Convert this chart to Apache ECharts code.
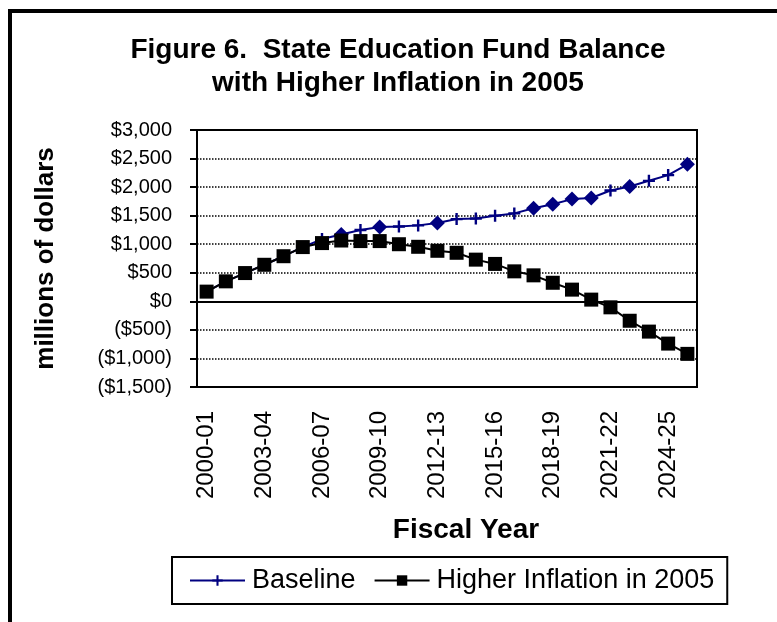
<!DOCTYPE html>
<html><head><meta charset="utf-8">
<script src="https://cdn.jsdelivr.net/npm/echarts@6/dist/echarts.min.js"></script>
<style>html,body{margin:0;padding:0;background:#fff}#c{width:777px;height:622px}</style>
</head><body><div id="c"></div>
<script>
const categories = ['2000-01','2001-02','2002-03','2003-04','2004-05','2005-06','2006-07','2007-08','2008-09','2009-10','2010-11','2011-12','2012-13','2013-14','2014-15','2015-16','2016-17','2017-18','2018-19','2019-20','2020-21','2021-22','2022-23','2023-24','2024-25','2025-26'];
const baseline = [170, 350, 495, 640, 790, 950, 1090, 1170, 1250, 1300, 1310, 1330, 1370, 1440, 1450, 1500, 1540, 1630, 1700, 1790, 1810, 1940, 2010, 2110, 2210, 2400];
const higherInflation = [170, 350, 495, 640, 790, 950, 1020, 1065, 1055, 1055, 1000, 955, 885, 850, 730, 655, 525, 455, 325, 205, 30, -105, -340, -530, -740, -920];
const baselineDiamondIdx = [7, 9, 12, 17, 18, 19, 20, 22, 25];
const yTicks = {min: -1500, max: 3000, interval: 500};

const FONT = 'Liberation Sans, Arial, sans-serif';
const PLUS = 'path://M0,4H10V6H0Z M4,0H6V10H4Z';
const chart = echarts.init(document.getElementById('c'), null, {renderer: 'canvas'});

function money(v) {
  const s = Math.abs(v).toLocaleString('en-US');
  return v < 0 ? '($' + s + ')' : '$' + s;
}

const baseData = baseline.map((v, i) => baselineDiamondIdx.includes(i)
  ? {value: v, symbol: 'diamond', symbolSize: 15}
  : v);

chart.setOption({
  animation: false,
  backgroundColor: '#fff',
  graphic: [{
    type: 'rect', shape: {x: 10, y: 11, width: 900, height: 800},
    style: {fill: 'none', stroke: '#000', lineWidth: 4}, silent: true
  }, {
    type: 'text', x: 466, y: 530,
    style: {text: 'Fiscal Year', fontFamily: FONT, fontSize: 28, fontWeight: 'bold', fill: '#000',
            align: 'center', verticalAlign: 'middle'}, silent: true
  }],
  title: {
    text: 'Figure 6.  State Education Fund Balance\nwith Higher Inflation in 2005',
    left: 393, top: 29, textAlign: 'center',
    textStyle: {fontFamily: FONT, fontSize: 28, fontWeight: 'bold', color: '#000', lineHeight: 33}
  },
  legend: {
    left: 172, top: 557,
    padding: [10, 13, 10, 17],
    borderColor: '#000', borderWidth: 2,
    itemGap: 18, itemWidth: 55, itemHeight: 13,
    textStyle: {fontFamily: FONT, fontSize: 27, color: '#000', padding: [0, 0, 0, 2]},
    data: ['Baseline', 'Higher Inflation in 2005']
  },
  grid: {
    left: 197, right: 80, top: 130, bottom: 235,
    show: true, borderColor: '#000', borderWidth: 2, backgroundColor: 'transparent'
  },
  xAxis: {
    type: 'category', data: categories, boundaryGap: true,
    axisLine: {show: false, onZero: false},
    axisTick: {show: false},
    axisLabel: {interval: 2, rotate: 90, margin: 24, fontFamily: FONT, fontSize: 24, color: '#000'},
    splitLine: {show: false}
  },
  yAxis: {
    type: 'value', min: yTicks.min, max: yTicks.max, interval: yTicks.interval,
    name: 'millions of dollars', nameLocation: 'middle', nameGap: 138,
    nameTextStyle: {fontFamily: FONT, fontSize: 26, fontWeight: 'bold', color: '#000'},
    axisLine: {show: true, lineStyle: {color: '#000', width: 2}},
    axisTick: {show: true, length: 7, lineStyle: {color: '#000', width: 2}},
    axisLabel: {margin: 25, fontFamily: FONT, fontSize: 20, color: '#000', formatter: money},
    splitLine: {show: true, lineStyle: {color: '#000', width: 1.5, type: 'dotted'}}
  },
  series: [
    {
      name: 'Baseline', type: 'line', data: baseData,
      symbol: PLUS, symbolSize: 12, showAllSymbol: true,
      itemStyle: {color: '#000080'},
      lineStyle: {color: '#000080', width: 2},
      z: 3
    },
    {
      name: 'Higher Inflation in 2005', type: 'line', data: higherInflation,
      symbol: 'rect', symbolSize: 14, showAllSymbol: true,
      itemStyle: {color: '#000'},
      lineStyle: {color: '#000', width: 2},
      z: 4,
      markLine: {
        silent: true, symbol: 'none', label: {show: false},
        lineStyle: {color: '#000', width: 2, type: 'solid'},
        data: [{yAxis: 0}]
      }
    }
  ]
});
</script></body></html>
